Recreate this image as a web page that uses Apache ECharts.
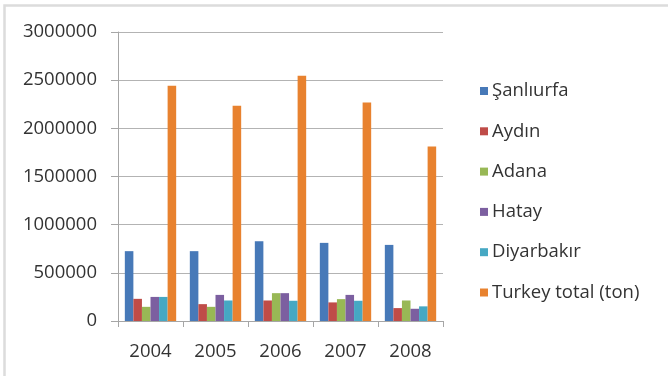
<!DOCTYPE html>
<html>
<head>
<meta charset="utf-8">
<script src="https://cdn.jsdelivr.net/npm/echarts@6/dist/echarts.min.js"></script>
<style>
  html, body { margin: 0; padding: 0; background: #fff; }
  #chart { width: 668px; height: 376px; }
</style>
</head>
<body>
<div id="chart"></div>
<script>
const years = ['2004', '2005', '2006', '2007', '2008'];
const sanliurfa = [725000, 725000, 828000, 811000, 790000];
const aydin = [230000, 175000, 213000, 193000, 134000];
const adana = [147000, 147000, 289000, 227000, 213000];
const hatay = [250000, 271000, 289000, 271000, 127000];
const diyarbakir = [250000, 213000, 210000, 210000, 152000];
const turkeyTotal = [2443000, 2234000, 2546000, 2268000, 1811000];
const yTicks = [0, 500000, 1000000, 1500000, 2000000, 2500000, 3000000];

const font = 'Open Sans';
const chart = echarts.init(document.getElementById('chart'));

const bar = (name, data, color) => ({
  name: name,
  type: 'bar',
  data: data,
  barGap: '0%',
  barCategoryGap: '21%',
  itemStyle: { color: color },
  animation: false
});

const option = {
  backgroundColor: '#fff',
  textStyle: { fontFamily: font },
  graphic: [{
    type: 'rect',
    shape: { x: 4.5, y: 5.5, width: 700, height: 400 },
    style: { fill: 'none', stroke: '#dcdcdc', lineWidth: 2.5 },
    silent: true
  }],
  grid: { left: 118, right: 225, top: 32, bottom: 55 },
  legend: {
    orient: 'vertical',
    left: 475,
    top: 73,
    itemWidth: 8,
    itemHeight: 8,
    itemGap: 14.3,
    icon: 'rect',
    textStyle: { fontFamily: font, fontSize: 18.5, color: '#333', padding: [0, 0, 0, -1], lineHeight: 26 },
    data: ['Şanlıurfa', 'Aydın', 'Adana', 'Hatay', 'Diyarbakır', 'Turkey total (ton)']
  },
  xAxis: {
    type: 'category',
    data: years,
    axisLine: { lineStyle: { color: '#a6a6a6' } },
    axisTick: { show: true, length: 6, lineStyle: { color: '#a6a6a6' } },
    axisLabel: { fontFamily: font, fontSize: 18.5, color: '#333', margin: 21 }
  },
  yAxis: {
    type: 'value',
    min: yTicks[0],
    max: yTicks[yTicks.length - 1],
    interval: yTicks[1] - yTicks[0],
    axisLine: { show: true, lineStyle: { color: '#a6a6a6' } },
    axisTick: { show: true, length: 7, lineStyle: { color: '#a6a6a6' } },
    axisLabel: { fontFamily: font, fontSize: 18.5, color: '#333', margin: 21, formatter: v => String(v) },
    splitLine: { lineStyle: { color: '#b3b3b3' } }
  },
  series: [
    bar('Şanlıurfa', sanliurfa, '#4779b8'),
    bar('Aydın', aydin, '#bf4c48'),
    bar('Adana', adana, '#98b855'),
    bar('Hatay', hatay, '#7c5fa0'),
    bar('Diyarbakır', diyarbakir, '#46a8c3'),
    bar('Turkey total (ton)', turkeyTotal, '#e8822f')
  ]
};

chart.setOption(option);
</script>
</body>
</html>
